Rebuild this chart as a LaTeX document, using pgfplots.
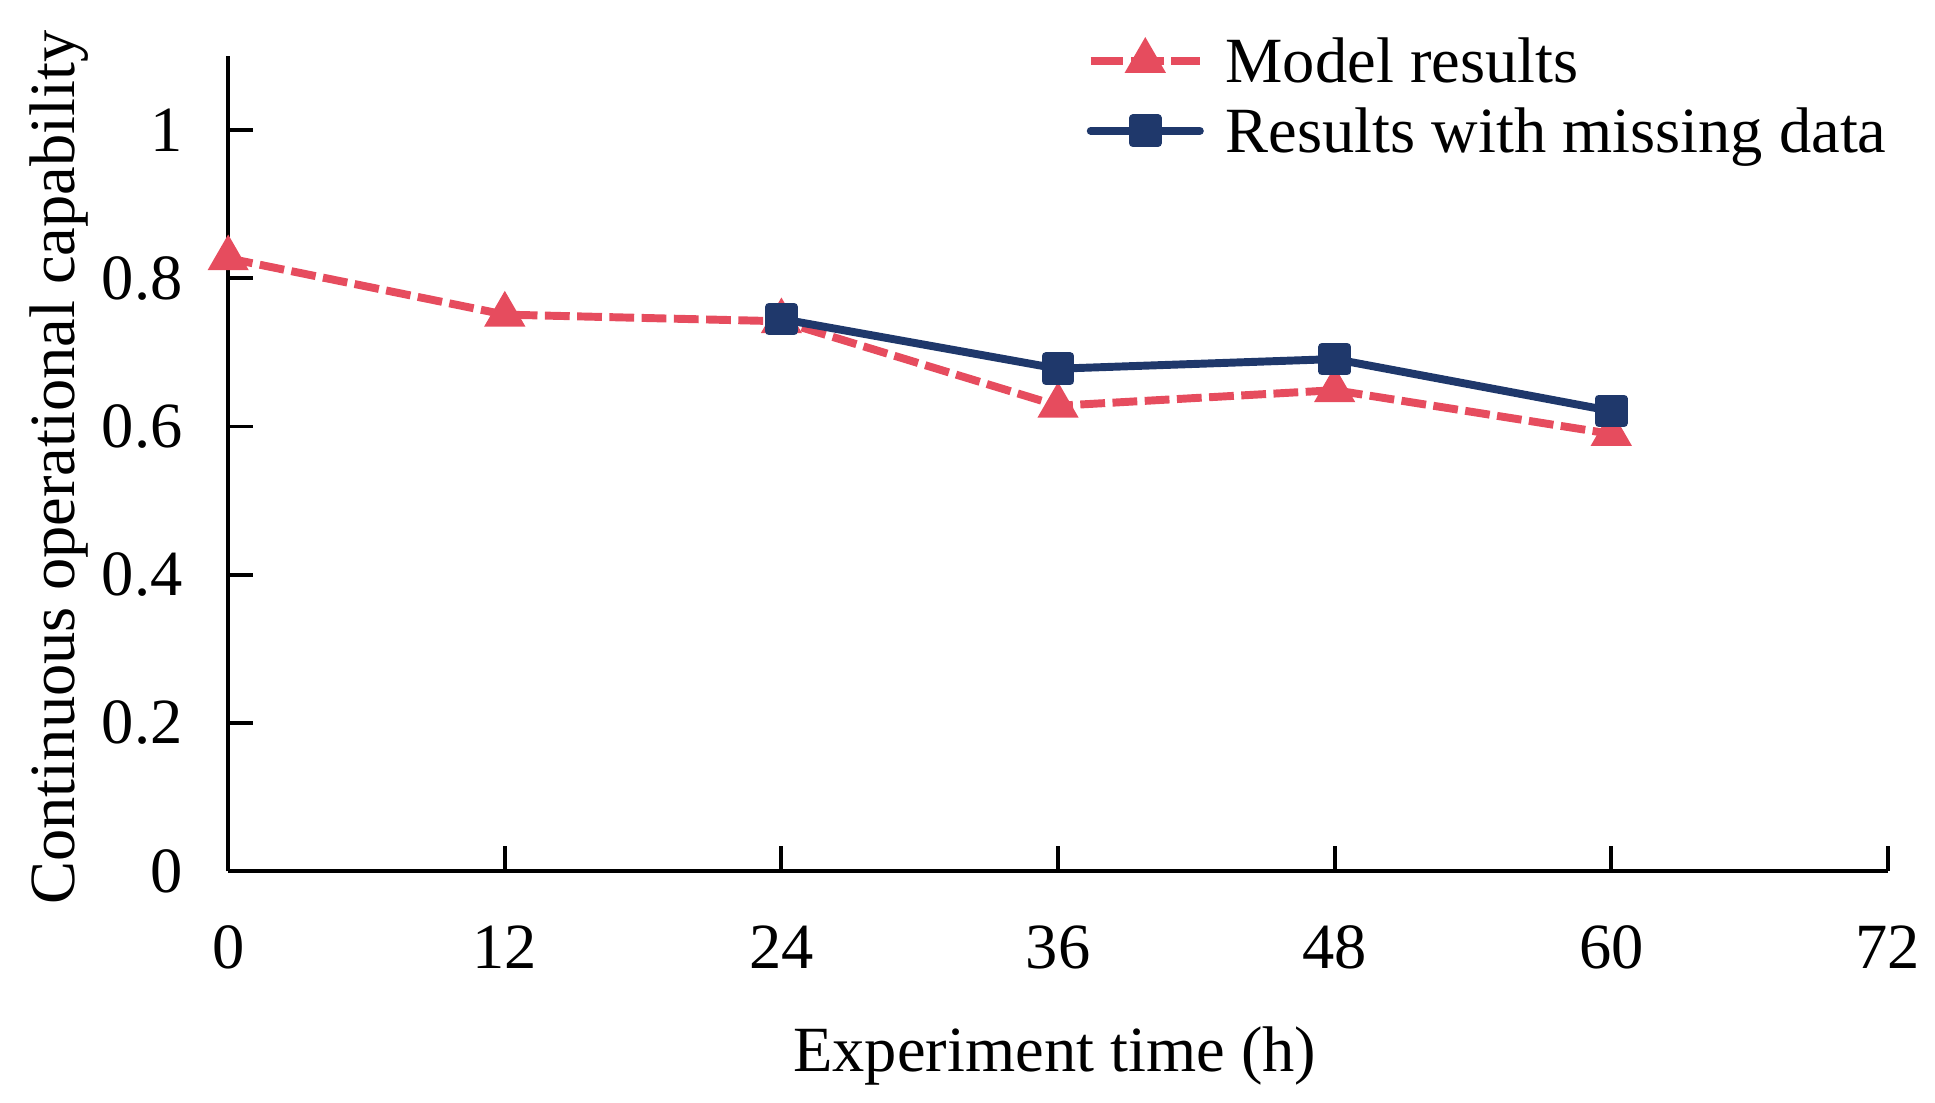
\documentclass[border=0pt]{standalone}
\usepackage{fontspec}
\setmainfont{Liberation Serif}
\usepackage{pgfplots}
\pgfplotsset{compat=1.18}
\definecolor{modelred}{RGB}{230,76,94}
\definecolor{missblue}{RGB}{31,56,107}
\begin{document}
\fontsize{13}{15.6}\selectfont
\begin{tikzpicture}
\useasboundingbox (0,0) rectangle (390.1pt,222.2pt);
\begin{axis}[
  at={(46pt,46.6pt)}, anchor=south west,
  scale only axis, width=334.6pt, height=164.3pt,
  xmin=0, xmax=72, ymin=0, ymax=1.1,
  axis lines=left,
  axis line style={-, line width=0.8pt, black},
  xtick={0,12,24,36,48,60,72},
  ytick={0,0.2,0.4,0.6,0.8,1},
  yticklabels={0,0.2,0.4,0.6,0.8,1},
  tick align=inside,
  major tick length=5pt,
  tick style={line width=0.8pt, black},
  /pgf/number format/assume math mode=true,
  ticklabel style={font=\fontsize{13}{15.6}\selectfont, inner sep=0pt},
  xticklabel style={anchor=north, yshift=-10.9pt},
  yticklabel style={anchor=east, xshift=-9pt},
  xlabel={Experiment time (h)},
  ylabel={Continuous operational capability},
  label style={font=\fontsize{13}{15.6}\selectfont, inner sep=0pt},
  xlabel style={at={(axis description cs:0.498,-0.2465)}, anchor=base},
  ylabel style={at={(axis description cs:-0.0926,0.4951)}, anchor=base},
  clip=false,
  legend cell align=left,
  legend image code/.code={
    \draw[#1, mark repeat=2, mark phase=2]
      plot coordinates {(0pt,1.3pt) (11pt,1.3pt) (22pt,1.3pt)};},
  legend style={at={(axis description cs:0.5173,1.0227)}, anchor=north west,
    draw=none, fill=none, inner sep=0pt, outer sep=0pt,
    font=\fontsize{13}{15.6}\selectfont,
    nodes={inner sep=0pt, text height=9pt, text depth=3pt},
    row sep=2.1pt, column sep=4.4pt},
]
\addplot[color=modelred, line width=1.6pt, dash pattern=on 5pt off 1.5pt,
  mark=triangle*, mark size=3.2pt, mark options={solid, fill=modelred},
  legend image post style={dash pattern=on 6.6pt off 1.5pt}]
  coordinates {(0,0.827) (12,0.751) (24,0.742) (36,0.628) (48,0.649) (60,0.590)};
\addlegendentry{Model results}
\addplot[color=missblue, line width=1.6pt, line cap=round, line join=round,
  mark=square*, mark size=2.5pt, mark options={solid, fill=missblue}]
  coordinates {(24,0.745) (36,0.678) (48,0.691) (60,0.621)};
\addlegendentry{Results with missing data}
\end{axis}
\end{tikzpicture}
\end{document}
